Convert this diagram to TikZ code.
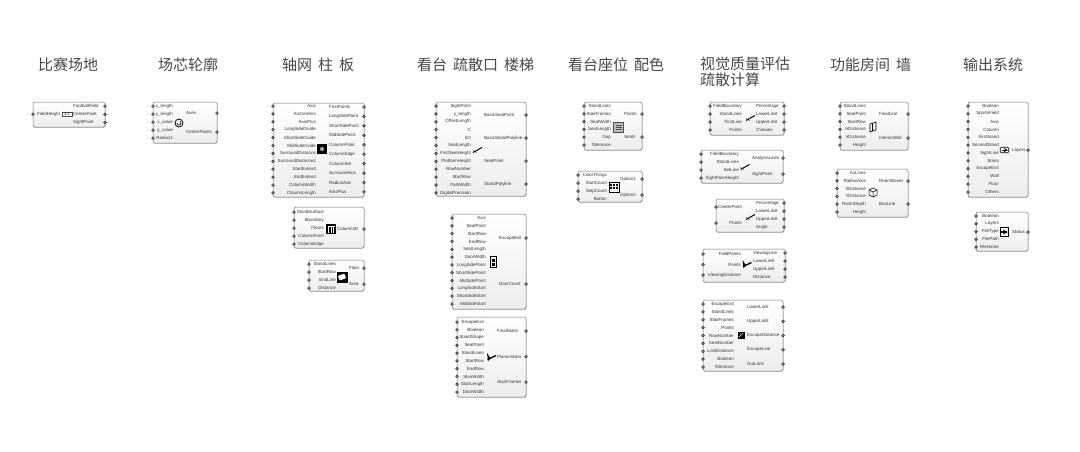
\documentclass[tikz,border=0pt]{standalone}
\usepackage{fontspec}
\setmainfont{Liberation Sans}
\newfontfamily\cjk{Noto Sans CJK SC}
\usetikzlibrary{positioning, shadows}

\tikzset{
    gcomp/.style={draw=black!55, line width=0.5pt, rounded corners=1.5pt, anchor=north west, inner sep=0pt, outer sep=0pt, top color=white, bottom color=black!7, drop shadow={shadow xshift=0.4pt, shadow yshift=-0.7pt, opacity=0.25, fill=black}},
    ginlabel/.style={anchor=east, inner sep=0pt, text=black!80, font=\fontsize{4.45}{5}\selectfont},
    goutlabel/.style={anchor=west, inner sep=0pt, text=black!80, font=\fontsize{4.45}{5}\selectfont},
    gport/.style={circle, draw=black!80, fill=black!45, line width=0.5pt, inner sep=0pt, minimum size=2.8pt},
    gtitle/.style={anchor=west, inner sep=0pt, text=black!72, align=left, font=\cjk\fontsize{15}{16}\selectfont},
    gicon/.style={draw=black, fill=black, inner sep=0pt, outer sep=0pt},
    gstroke/.pic={
        \draw[black, line width=1pt] (-4.5,2.5) -- (4.5,-2.5);
        \draw[black, line width=0.4pt] (-4.5,0.5) -- (-1,2.5);
    },
    gstairs/.pic={
        \draw[black, line width=1.3pt] (-4,2.5) -- (4.5,-1.5);
        \fill[black] (-4.5,-4) -- (-1,1.5) -- (-3.5,4) -- cycle;
    },
    gdoor/.pic={
        \draw[black, line width=0.7pt] (-3,-5.5) rectangle (3,5.5);
        \fill[black] (-1.5,-3) rectangle (1.5,-0.5);
        \fill[black] (-1.5,1) rectangle (1.5,3.5);
    },
    gpanel/.pic={
        \draw[black!70, fill=black!25, line width=0.6pt] (-5,-5) rectangle (5,5);
        \draw[black!70, line width=0.5pt] (-3,-2) -- (3,-2) (-3,0) -- (3,0) (-3,2) -- (3,2);
    },
    ggrid/.pic={
        \draw[black, fill=white, line width=0.7pt] (-5,-5) rectangle (5,5);
        \foreach \gx in {-3,0,3}
            \foreach \gy in {-2,1}
                \fill[black] (\gx-0.8,\gy-0.8) rectangle (\gx+0.8,\gy+0.8);
    },
    gcube/.pic={
        \draw[black, line width=0.5pt] (-4,-2) -- (0,-4) -- (4,-2) -- (4,3) -- (0,5) -- (-4,3) -- cycle;
        \draw[black, line width=0.5pt] (-4,-2) -- (0,0) -- (4,-2) (0,0) -- (0,5);
    },
    gwall/.pic={
        \draw[black, line width=0.6pt] (-3,-3) -- (3,-5) -- (3,3) -- (-3,5) -- cycle;
        \draw[black, line width=0.4pt] (-1,-3.7) -- (-1,4.3);
    },
}

\newcommand{\gbox}[5]{\node[gcomp, minimum width=#4pt-#2pt, minimum height=#5pt-#3pt] (#1) at (#2,#3) {};}
\newcommand{\gin}[5]{
    \foreach \t [count=\i] in {#5} {
        \pgfmathsetmacro{\py}{#3+(\i-1)*#4}
        \node[ginlabel] (#1-in\i) at (#2,\py) {\t};
        \node[gport] (#1-ip\i) at (#1.west |- 0,\py) {};
    }
}
\newcommand{\gout}[5]{
    \foreach \t [count=\i] in {#5} {
        \pgfmathsetmacro{\py}{#3+(\i-1)*#4}
        \node[goutlabel] (#1-out\i) at (#2,\py) {\t};
        \node[gport] (#1-op\i) at (#1.east |- 0,\py) {};
    }
}

\begin{document}
\begin{tikzpicture}[x=1pt, y=-1pt]
    \useasboundingbox (0,0) rectangle (1080,451);

    % titles
    \node[gtitle] (t1) at (38,65) {比赛场地};
    \node[gtitle] (t2) at (158,65) {场芯轮廓};
    \node[gtitle] (t3) at (282,65) {轴网\hspace{6pt}柱\hspace{6pt}板};
    \node[gtitle] (t4) at (417,65) {看台\hspace{6pt}疏散口\hspace{6pt}楼梯};
    \node[gtitle] (t5) at (568,65) {看台座位\hspace{6pt}配色};
    \node[gtitle, anchor=north west] (t6) at (700,57) {视觉质量评估\\疏散计算};
    \node[gtitle] (t7) at (830,65) {功能房间\hspace{6pt}墙};
    \node[gtitle] (t8) at (963,65) {输出系统};

    % first column
    \gbox{field}{33}{102}{105}{127}
    \gin{field}{60}{114}{8}{FieldHeight}
    \gout{field}{73}{106}{8.3}{FootballField,CenterPoint,SightPoint}
    \node[draw=black!70, fill=white, line width=0.5pt, inner sep=0.7pt, minimum width=10pt, font=\fontsize{4.2}{5}\selectfont] (field-icon) at (67,114) {1.1};

    % second column
    \gbox{core}{153}{102}{217}{143}
    \gin{core}{173}{106}{8}{x\_length,y\_length,x\_value,y\_value,Radius1}
    \gout{core}{186}{113}{19}{Axes,CenterPoints}
    \node[draw=black, circle, line width=0.8pt, inner sep=0pt, minimum size=8pt] (core-icon) at (179,123) {};
    \draw[black, line width=0.6pt] (177,123) arc (180:-60:2);

    % grid, column, floor
    \gbox{grid}{273}{103}{364}{197}
    \gin{grid}{316}{106}{7.9}{Axis,ArcCenters,AxisPlus,LongSideDivide,ShortSideDivide,MidSideDivide,SurroundDistance,SurroundDistance2,StartExtend,EndExtend,ColumnWidth,ColumnLength}
    \gout{grid}{329}{107}{9.44}{FirstPoints,LongSidePoint,ShortSidePoint,MidSidePoint,ColumnPoint,ColumnEdge,ColumnSet,SurroundAxis,RadiusAxis,AxisPlus}
    \node[gicon, minimum size=9pt] (grid-icon) at (322,149) {};
    \node[draw=black!50, fill=black!30, circle, inner sep=0pt, minimum size=4pt] (grid-dot) at (322,149) {};

    \gbox{column}{294}{207}{364}{248}
    \gin{column}{324}{212}{8}{StandSurface,Boundary,Floors,ColumnPoint,ColumnEdge}
    \gout{column}{337}{229}{8}{Column3D}
    \node[gicon, minimum size=9pt] (column-icon) at (331,229) {};
    \draw[white, line width=0.7pt] (328.5,233) -- (328.5,227) (331,233) -- (331,227) (333.5,233) -- (333.5,227) (327.5,226) -- (334.5,226);

    \gbox{floor}{309}{260}{364}{291}
    \gin{floor}{336}{264}{8}{StandLines,StartRow,EndLine,Distance}
    \gout{floor}{349}{268}{16}{Floor,Area}
    \node[gicon, minimum size=10pt] (floor-icon) at (342,277) {};
    \node[fill=white, rounded corners=1pt, inner sep=0pt, minimum width=7pt, minimum height=5pt, rotate=20] (floor-hole) at (342,277) {};

    % stands, exit, stairs
    \gbox{stand}{436}{102}{526}{196}
    \gin{stand}{471}{106}{7.9}{SightPoint,y\_length,OffsetLength,C,hO,SeatLength,FirstSeatHeight,PlatformHeight,RowNumber,StartRow,PathWidth,DigitalPrecision}
    \gout{stand}{484}{115}{23}{BasicSeatPoint,BasicStandPolyline,SeatPoint,StandPolyline}
    \pic at (477.5,150) {gstroke};

    \gbox{exit}{452}{214}{526}{309}
    \gin{exit}{486}{218}{7.82}{Axis,SeatPoint,StartRow,EndRow,SeatLength,DoorWidth,LongSidePoint,ShortSidePoint,MidSidePoint,LongSideStart,ShortSideStart,MidSideStart}
    \gout{exit}{499}{238}{46}{EscapeExit,DoorCount}
    \pic at (493,262) {gdoor};

    \gbox{stairs}{457}{317}{526}{397}
    \gin{stairs}{484}{322}{7.78}{EscapeExit,Boolean,StandShape,SeatPoint,StandLines,StartRow,EndRow,StairWidth,StairLength,DoorWidth}
    \gout{stairs}{497}{331}{25.5}{FinalStairs,PlanarStairs,StairFrames}
    \pic at (491.5,357) {gstairs};

    % seats, colours
    \gbox{seats}{584}{102}{642}{150}
    \gin{seats}{611}{106}{7.8}{StandLines,StairFrames,SeatWidth,SeatLength,Gap,Tolerance}
    \gout{seats}{624}{114}{23}{Points,Seats}
    \pic at (618.5,127) {gpanel};

    \gbox{colors}{578}{171}{642}{202}
    \gin{colors}{607}{175}{8}{ColorThings,StartCount,StepCount,Button}
    \gout{colors}{620}{179}{16}{Option1,Option2}
    \pic at (614,187) {ggrid};

    % view quality, escape
    \gbox{cvalue}{710}{102}{784}{135}
    \gin{cvalue}{742}{106}{8}{FieldBoundary,StandLines,FirstLine,Points}
    \gout{cvalue}{756}{106}{8}{Percentage,LowerLimit,UpperLimit,CValues}
    \pic at (750.5,118) {gstroke};

    \gbox{sight}{701}{150}{783}{183}
    \gin{sight}{739}{154}{8}{FieldBoundary,StandLines,SetLine,SightPointHeight}
    \gout{sight}{752}{158}{16}{AnalysisLines,SightPoint}
    \pic at (745,167) {gstroke};

    \gbox{angle}{716}{199}{784}{232}
    \gin{angle}{742}{207}{16}{CenterPoint,Points}
    \gout{angle}{756}{203}{8}{Percentage,LowerLimit,UpperLimit,Angle}
    \pic at (750.5,217) {gstroke};

    \gbox{view}{703}{249}{785}{282}
    \gin{view}{741}{254}{10.5}{FieldPoints,Points,ViewingDistance}
    \gout{view}{753}{253}{8}{ViewingLine,LowerLimit,UpperLimit,Distance}
    \pic at (747,264) {gstairs};

    \gbox{escape}{703}{300}{783}{371}
    \gin{escape}{734}{304}{7.875}{EscapeExit,StandLines,StairFrames,Points,RowNumber,SeatNumber,LimitDistance,Boolean,Tolerance}
    \gout{escape}{747}{307}{14.25}{LowerLimit,UpperLimit,EscapeDistance,EscapeLine,OutLimit}
    \node[gicon, minimum size=6pt] (escape-icon) at (741,335) {};
    \draw[white, line width=0.6pt] (739,337) -- (743,333);

    % rooms, walls
    \gbox{wall}{840}{102}{908}{150}
    \gin{wall}{866}{106}{7.8}{StandLines,SeatPoint,StartRow,HDistance,VDistance,Height}
    \gout{wall}{879}{114}{24}{FinalLine,InteriorWall}
    \pic at (873,127) {gwall};

    \gbox{room}{837}{169}{908}{217}
    \gin{room}{866}{173}{7.8}{AxLines,RadiusAxis,XDistance,YDistance,RoomDepth,Height}
    \gout{room}{879}{181}{23}{RoomBoxes,BoxLine}
    \pic at (873,192) {gcube};

    % output
    \gbox{layers}{968}{102}{1028}{197}
    \gin{layers}{999}{106}{7.82}{Boolean,SportsField,Axis,Column,FirstStand,SecondStand,SightLine,Stairs,EscapeExit,Wall,Floor,Others}
    \gout{layers}{1012}{150}{8}{Layers}
    \node[draw=black, fill=white, inner sep=0pt, minimum width=8.5pt, minimum height=5.5pt, rounded corners=1pt, line width=0.6pt] (layers-icon) at (1004.5,150) {};
    \draw[black, line width=0.9pt, -stealth] (1002,150) -- (1008,150);

    \gbox{export}{976}{212}{1028}{251}
    \gin{export}{999}{216}{7.75}{Boolean,Layers,FileType,FilePath,FileName}
    \gout{export}{1012}{232}{8}{Status}
    \node[draw=black, fill=white, inner sep=0pt, minimum size=8.5pt, line width=0.7pt] (export-icon) at (1004.5,232) {};
    \draw[black, line width=1.3pt, -stealth] (1001,232) -- (1008,232);
\end{tikzpicture}
\end{document}
